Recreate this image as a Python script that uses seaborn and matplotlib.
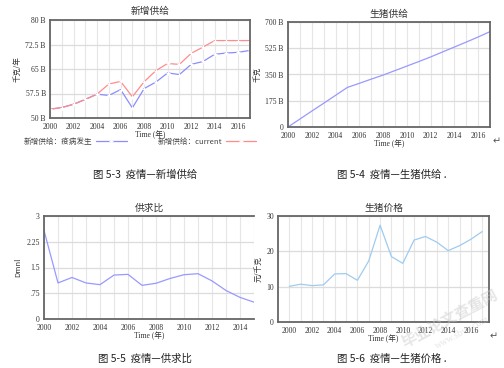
import matplotlib
matplotlib.use("Agg")
import matplotlib.pyplot as plt
import numpy as np
import pandas as pd
import seaborn as sns

# values
years = list(range(2000, 2018))
supply_epidemic = [52.7, 53.2, 54.2, 55.7, 57.3, 56.9, 58.7, 53.1, 59.0, 61.0,
                   63.8, 63.3, 66.4, 67.3, 69.5, 69.9, 70.1, 70.7]
supply_current = [52.7, 53.2, 54.2, 55.7, 57.3, 60.4, 61.2, 56.5, 61.1, 64.5,
                  66.7, 66.4, 69.8, 71.7, 73.7, 73.7, 73.7, 73.7]
hog_supply = [0, 53, 106, 158, 211, 264, 291, 319, 346, 376,
              406, 436, 467, 500, 533, 566, 600, 636]
ratio_years = list(range(2000, 2016))
supply_demand_ratio = [2.58, 1.05, 1.21, 1.05, 1.00, 1.28, 1.30, 0.98, 1.04, 1.18,
                       1.29, 1.32, 1.11, 0.83, 0.63, 0.49]
hog_price = [10.1, 10.7, 10.3, 10.5, 13.6, 13.7, 11.8, 17.3, 27.4, 18.5,
             16.6, 23.2, 24.2, 22.6, 20.2, 21.6, 23.4, 25.6]

sns.set_theme(style = "white")
plt.rcParams["font.family"] = ["Liberation Serif", "Noto Sans CJK SC", "DejaVu Sans"]
cjk = ["Noto Sans CJK SC", "DejaVu Sans"]

W, H = 504, 368
fig = plt.figure(figsize = (W / 100, H / 100), dpi = 100)
fig.patch.set_facecolor("white")


def px_axes(left, top, right, bottom):
    return fig.add_axes([left / W, 1 - bottom / H, (right - left) / W, (bottom - top) / H])


def style_axes(ax, title, ylabel, xlim, yticks, ylabels, xticks):
    ax.set_xlim(*xlim)
    ax.set_ylim(yticks[0], yticks[-1])
    ax.set_yticks(yticks)
    ax.set_yticklabels(ylabels, fontsize = 5.5)
    ax.set_xticks(xticks)
    ax.set_xticklabels([str(x) for x in xticks], fontsize = 5.5)
    ax.set_xticks(range(2000, int(xlim[1]) + 1), minor = True)
    ax.grid(which = "minor", axis = "x", color = "#e6e6e6", linewidth = 0.8)
    ax.grid(which = "major", axis = "x", color = "#e6e6e6", linewidth = 0.8)
    ax.grid(which = "major", axis = "y", color = "#dcdcdc", linewidth = 0.9)
    ax.set_axisbelow(True)
    ax.tick_params(length = 0, colors = "#333333")
    ax.tick_params(axis = "x", pad = 3.5)
    ax.tick_params(axis = "y", pad = 3)
    for sp in ax.spines.values():
        sp.set_color("#666666")
        sp.set_linewidth(1.3)
    ax.set_title(title, fontsize = 7, family = cjk, color = "#333333", pad = 4)
    ax.set_xlabel("Time (年)", fontsize = 5.5, labelpad = 0, color = "#333333")
    ax.set_ylabel(ylabel, fontsize = 5.5, family = cjk, labelpad = 3, color = "#333333")


# 新增供给
df1 = pd.DataFrame({"year": years, "epidemic": supply_epidemic, "current": supply_current})
ax1 = px_axes(50, 20, 250, 118)
sns.lineplot(data = df1, x = "year", y = "epidemic", ax = ax1, color = "#8c8cff", linewidth = 0.9,
             marker = "+", markersize = 3, markeredgewidth = 0.8, label = "新增供给：疫病发生")
sns.lineplot(data = df1, x = "year", y = "current", ax = ax1, color = "#ff8c8c", linewidth = 0.9,
             marker = "+", markersize = 3, markeredgewidth = 0.8, label = "新增供给：current")
style_axes(ax1, "新增供给", "千克/年", (2000, 2017), [50, 57.5, 65, 72.5, 80],
           ["50 B", "57.5 B", "65 B", "72.5 B", "80 B"], list(range(2000, 2017, 2)))
leg = ax1.legend(loc = "upper center", bbox_to_anchor = (0.45, -0.13), ncol = 2, frameon = False,
                 markerfirst = False, prop = {"family": cjk, "size": 5.5},
                 handlelength = 4, columnspacing = 4, handletextpad = 0.5)
for t in leg.get_texts():
    t.set_color("#444444")

# 生猪供给
df2 = pd.DataFrame({"year": years, "supply": hog_supply})
ax2 = px_axes(288, 22, 490, 127)
sns.lineplot(data = df2, x = "year", y = "supply", ax = ax2, color = "#9999ff", linewidth = 0.9)
style_axes(ax2, "生猪供给", "千克", (2000, 2017), [0, 175, 350, 525, 700],
           ["0", "175 B", "350 B", "525 B", "700 B"], list(range(2000, 2017, 2)))

# 供求比
df3 = pd.DataFrame({"year": ratio_years, "ratio": supply_demand_ratio})
ax3 = px_axes(44, 216, 254, 319)
sns.lineplot(data = df3, x = "year", y = "ratio", ax = ax3, color = "#9999ff", linewidth = 0.9)
style_axes(ax3, "供求比", "Dmnl", (2000, 2015), [0, 0.75, 1.5, 2.25, 3],
           ["0", ".75", "1.5", "2.25", "3"], list(range(2000, 2015, 2)))
ax3.spines["right"].set_visible(False)

# 生猪价格
df4 = pd.DataFrame({"year": years, "price": hog_price})
ax4 = px_axes(278, 216, 489, 322)
sns.lineplot(data = df4, x = "year", y = "price", ax = ax4, color = "#9fcbf0", linewidth = 0.9)
style_axes(ax4, "生猪价格", "元/千克", (1999, 2017.6), [0, 10, 20, 30],
           ["0", "10", "20", "30"], list(range(2000, 2017, 2)))
ax4.set_xticks(range(2000, 2018), minor = True)

# captions
cap = dict(fontsize = 7.5, family = cjk, color = "#222222", ha = "center", va = "center")
fig.text(145 / W, 1 - 175 / H, "图 5-3  疫情—新增供给", **cap)
fig.text(392 / W, 1 - 175 / H, "图 5-4  疫情—生猪供给 .", **cap)
fig.text(145 / W, 1 - 359 / H, "图 5-5  疫情—供求比", **cap)
fig.text(392 / W, 1 - 359 / H, "图 5-6  疫情—生猪价格 .", **cap)
fig.text(497 / W, 1 - 141 / H, "↵", fontsize = 7, color = "#555555", ha = "center", va = "center",
         family = ["DejaVu Sans"])
fig.text(494 / W, 1 - 336 / H, "↵", fontsize = 7, color = "#555555", ha = "center", va = "center",
         family = ["DejaVu Sans"])

# faint watermark
fig.text(450 / W, 1 - 318 / H, "毕业论文查重网", fontsize = 11, family = cjk, color = "#c8c8c8",
         alpha = 0.45, rotation = 28, ha = "center", va = "center", fontweight = "bold")
fig.text(462 / W, 1 - 333 / H, "www.sbvv.com", fontsize = 7, color = "#c8c8c8", alpha = 0.45,
         rotation = 28, ha = "center", va = "center")

plt.savefig("out.png", dpi = 100)
plt.close()
